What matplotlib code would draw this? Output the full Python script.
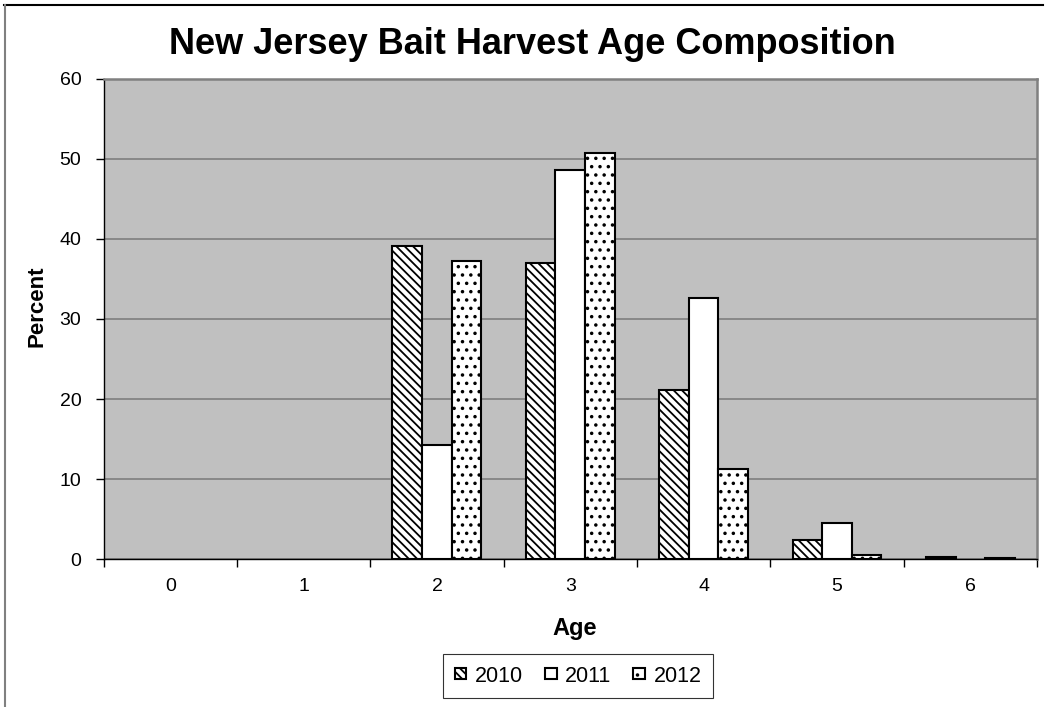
import matplotlib
matplotlib.use("Agg")
import matplotlib.pyplot as plt
from matplotlib.lines import Line2D
import numpy as np

# Age composition of the New Jersey bait harvest (percent of fish by age)
ages = ["0", "1", "2", "3", "4", "5", "6"]
years = ["2010", "2011", "2012"]
pct_2010 = [0.0, 0.0, 39.1, 37.0, 21.1, 2.4, 0.3]
pct_2011 = [0.0, 0.0, 14.3, 48.6, 32.6, 4.5, 0.0]
pct_2012 = [0.0, 0.0, 37.3, 50.7, 11.3, 0.5, 0.15]
y_ticks = [0, 10, 20, 30, 40, 50, 60]

plt.rcParams["font.family"] = ["Liberation Sans", "DejaVu Sans"]
plt.rcParams["hatch.linewidth"] = 1.3
plt.rcParams["hatch.color"] = "black"

W, H = 1047, 707
fig = plt.figure(figsize=(W / 100, H / 100), dpi=100)
ax = fig.add_axes([0.0989, 0.2093, 0.8916, 0.679])
ax.set_facecolor("#C0C0C0")

series = [pct_2010, pct_2011, pct_2012]
hatches = ["\\\\\\\\", "", ".."]
width = 1 / 4.5
x = np.arange(len(ages))
for i, (vals, yr, h) in enumerate(zip(series, years, hatches)):
    vals = np.asarray(vals, dtype=float)
    shown = vals > 0  # empty age classes draw no bar outline
    ax.bar(x[shown] + (i - 1) * width, vals[shown], width, color="white",
           edgecolor="black", linewidth=1.5, hatch=h, label=yr, zorder=3)

ax.set_xlim(-0.5, len(ages) - 0.5)
ax.set_ylim(0, 60)
ax.set_yticks(y_ticks)
ax.set_xticks(x)
ax.set_xticklabels(ages)
ax.set_xticks(np.arange(-0.5, len(ages), 1.0), minor=True)
ax.tick_params(axis="x", which="major", length=0, pad=14, labelsize=14)
ax.tick_params(axis="x", which="minor", length=6, width=1, color="black", direction="out")
ax.tick_params(axis="y", length=6, width=1, color="black", direction="out", pad=10, labelsize=14)

ax.yaxis.grid(True, color="#7F7F7F", linewidth=1.2, zorder=0)
ax.set_axisbelow(True)

ax.spines["left"].set_color("black")
ax.spines["bottom"].set_color("black")
ax.spines["left"].set_linewidth(1)
ax.spines["bottom"].set_linewidth(1)
for s in ("top", "right"):
    ax.spines[s].set_color("#808080")
    ax.spines[s].set_linewidth(1.8)

fig.text(575 / W, 1 - 628 / H, "Age", ha="center", va="center",
         fontsize=17, fontweight="bold")
fig.text(37 / W, 1 - 306 / H, "Percent", ha="center", va="center",
         rotation=90, fontsize=16, fontweight="bold")

fig.text(532 / W, 1 - 45 / H, "New Jersey Bait Harvest Age Composition",
         ha="center", va="center", fontsize=26, fontweight="bold")

leg = fig.legend(loc="center", bbox_to_anchor=(578 / W, 1 - 676 / H), ncol=3,
                 fontsize=15.5, frameon=True, fancybox=False, shadow=False,
                 handlelength=0.55, handleheight=0.4, handletextpad=0.4,
                 columnspacing=1.0, borderpad=0.55, borderaxespad=0)
leg.get_frame().set_edgecolor("black")
leg.get_frame().set_linewidth(0.8)

# outer chart border (top and left edges)
fig.add_artist(Line2D([4 / W, 1043 / W], [1 - 5 / H, 1 - 5 / H],
                      transform=fig.transFigure, color="black", linewidth=1.5))
fig.add_artist(Line2D([4.5 / W, 4.5 / W], [1 - 5 / H, 0],
                      transform=fig.transFigure, color="#808080", linewidth=1.5))

fig.savefig("out.png", dpi=100, facecolor="white")
